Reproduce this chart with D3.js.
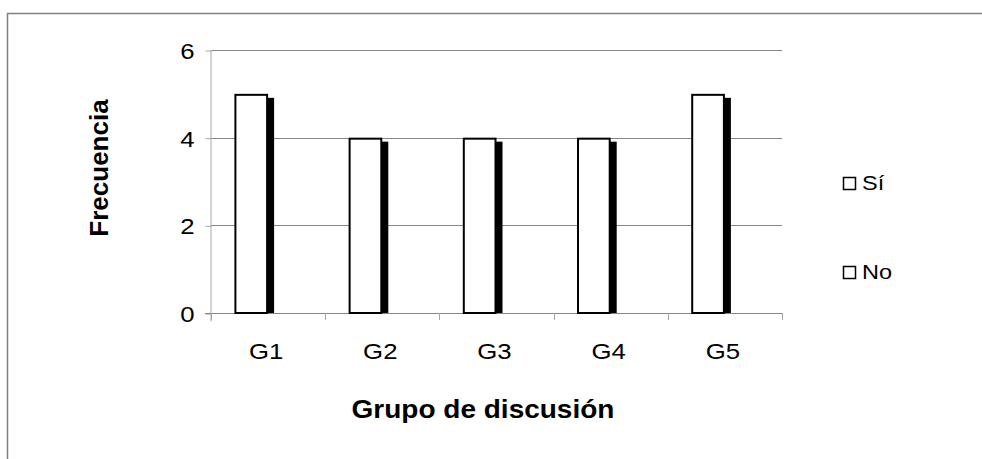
<!DOCTYPE html>
<html>
<head>
<meta charset="utf-8">
<script src="https://cdn.jsdelivr.net/npm/d3@7/dist/d3.min.js"></script>
<style>
  html, body { margin: 0; padding: 0; background: #fff; }
  svg { display: block; font-family: "Liberation Sans", Arial, sans-serif; }
</style>
</head>
<body>
<svg id="chart" width="982" height="459"></svg>
<script>
// Frequency of answers per discussion group
const categories = ["G1", "G2", "G3", "G4", "G5"];
const seriesNames = ["Sí", "No"];
const siValues = [5, 4, 4, 4, 5];
const noValues = [0, 0, 0, 0, 0];
const yTicks = [0, 2, 4, 6];

const seriesValues = [siValues, noValues];
const WIDEN = 1.12; // horizontal text stretch

const svg = d3.select("#chart");

// places a text at (x, y) with a slight horizontal stretch
function wideText(sel, x, y) {
  sel.attr("x", 0).attr("y", 0)
    .attr("transform", (d, i) => `translate(${typeof x === "function" ? x(d, i) : x},${typeof y === "function" ? y(d, i) : y}) scale(${WIDEN},1)`);
  return sel;
}

// outer frame (top and left edges visible)
svg.append("rect")
  .attr("x", 7.5).attr("y", 13.5)
  .attr("width", 1000).attr("height", 500)
  .attr("fill", "none").attr("stroke", "#808080").attr("stroke-width", 1.5);

const plot = { left: 211, right: 782, top: 50, bottom: 313 };

const x0 = d3.scaleBand()
  .domain(categories)
  .range([plot.left, plot.right])
  .paddingInner(0.41)
  .paddingOuter(0.205);

const x1 = d3.scaleBand()
  .domain(seriesNames)
  .range([0, x0.bandwidth()]);

const y = d3.scaleLinear()
  .domain([0, 6])
  .range([plot.bottom, plot.top]);

// horizontal gridlines
svg.append("g")
  .selectAll("line")
  .data(yTicks.filter(d => d > 0))
  .join("line")
  .attr("x1", plot.left).attr("x2", plot.right)
  .attr("y1", d => Math.round(y(d)) + 0.5).attr("y2", d => Math.round(y(d)) + 0.5)
  .attr("stroke", "#868686").attr("stroke-width", 1);

// y axis
const yAxis = svg.append("g")
  .attr("transform", `translate(${plot.left + 0.5},0.5)`)
  .call(d3.axisLeft(y).tickValues(yTicks).tickSize(6).tickPadding(11).tickFormat(d3.format("d")));
yAxis.select(".domain").attr("stroke", "#a6a6a6").attr("d", `M-0.5,${plot.top - 0.5}V${plot.bottom + 8}`);
yAxis.selectAll(".tick line").attr("stroke", "#a6a6a6");
yAxis.selectAll(".tick text")
  .attr("font-size", 23).attr("fill", "#000")
  .attr("font-family", "'Liberation Sans', Arial, sans-serif")
  .attr("dy", null)
  .attr("dominant-baseline", "central")
  .call(wideText, -17, 0);

// x axis baseline and category separator ticks
const xAxis = svg.append("g");
xAxis.append("line")
  .attr("x1", plot.left - 6).attr("x2", plot.right)
  .attr("y1", plot.bottom + 0.5).attr("y2", plot.bottom + 0.5)
  .attr("stroke", "#868686");
const step = x0.step();
const boundaries = d3.range(categories.length + 1).map(i => plot.left + i * step);
xAxis.selectAll("line.sep")
  .data(boundaries)
  .join("line")
  .attr("class", "sep")
  .attr("x1", d => Math.round(d) + 0.5).attr("x2", d => Math.round(d) + 0.5)
  .attr("y1", plot.bottom).attr("y2", plot.bottom + 7)
  .attr("stroke", "#a6a6a6");
xAxis.selectAll("text")
  .data(categories)
  .join("text")
  .attr("text-anchor", "middle")
  .attr("font-size", 23)
  .text(d => d)
  .call(wideText, d => x0(d) + x0.bandwidth() / 2 - 2, plot.bottom + 46);

// bars with drop shadow
const groups = svg.append("g")
  .selectAll("g")
  .data(categories)
  .join("g")
  .attr("transform", d => `translate(${x0(d)},0)`);

const cells = groups.selectAll("g")
  .data((c, ci) => seriesNames.map((s, si) => ({ s, v: seriesValues[si][ci] })).filter(d => d.v > 0))
  .join("g");

cells.append("rect")
  .attr("x", d => x1(d.s) + 6)
  .attr("y", d => y(d.v) + 4)
  .attr("width", x1.bandwidth())
  .attr("height", d => plot.bottom - y(d.v) - 4)
  .attr("fill", "#000");

cells.append("rect")
  .attr("x", d => x1(d.s) + 1)
  .attr("y", d => y(d.v) + 1)
  .attr("width", x1.bandwidth() - 2)
  .attr("height", d => plot.bottom - y(d.v) - 1)
  .attr("fill", "#fff").attr("stroke", "#000").attr("stroke-width", 2);

// axis titles
svg.append("text")
  .attr("text-anchor", "middle")
  .attr("font-size", 25).attr("font-weight", "bold")
  .text("Grupo de discusión")
  .call(wideText, 483, 418);

svg.append("text")
  .attr("transform", "translate(108,168) rotate(-90)")
  .attr("text-anchor", "middle")
  .attr("font-size", 26).attr("font-weight", "bold")
  .text("Frecuencia");

// legend
const legend = svg.append("g")
  .selectAll("g")
  .data(seriesNames)
  .join("g")
  .attr("transform", (d, i) => `translate(843,${177 + i * 89})`);
legend.append("rect")
  .attr("x", 0.5).attr("y", 0.5)
  .attr("width", 12).attr("height", 12)
  .attr("fill", "#fff").attr("stroke", "#000").attr("stroke-width", 1.5);
legend.append("text")
  .attr("font-size", 21)
  .text(d => d)
  .call(wideText, 19, 13);
</script>
</body>
</html>
